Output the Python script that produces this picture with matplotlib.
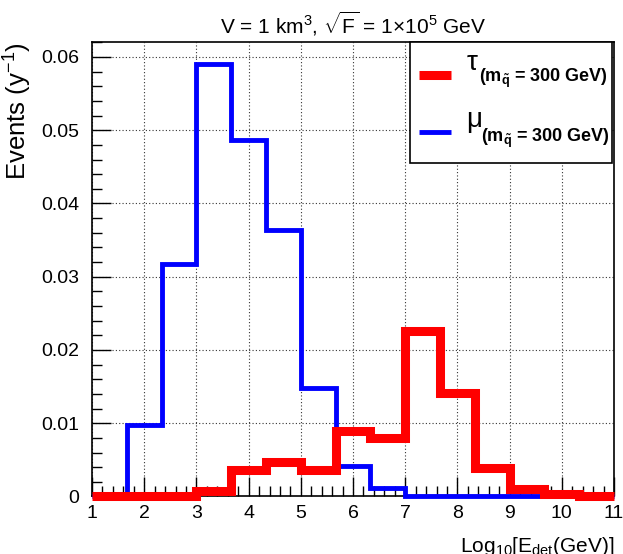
import numpy as np
import matplotlib
matplotlib.use("Agg")
import matplotlib.pyplot as plt
from matplotlib.ticker import MultipleLocator

plt.rcParams["font.family"] = ["Liberation Sans", "DejaVu Sans"]
plt.rcParams["mathtext.fontset"] = "custom"
plt.rcParams["mathtext.rm"] = "Liberation Sans"
plt.rcParams["mathtext.it"] = "Liberation Sans:italic"
plt.rcParams["mathtext.bf"] = "Liberation Sans:bold"
plt.rcParams["mathtext.default"] = "regular"

# log10 of detected energy, 15 bins between 1 and 11
bin_edges = np.linspace(1, 11, 16)

# events per year in each bin
tau_events = [0.0001, 0.0001, 0.0001, 0.0008, 0.0036, 0.0047, 0.0036, 0.0090,
              0.0080, 0.0226, 0.0141, 0.0039, 0.0010, 0.0004, 0.0001]
mu_events = [0.0, 0.0098, 0.0318, 0.0590, 0.0486, 0.0364, 0.0148, 0.0042,
             0.0011, 0.0001, 0.0001, 0.0001, 0.0001, 0.0, 0.0]

mass_label = r"(m$_{\mathbf{\tilde{q}}}$ = 300 GeV)"

fig = plt.figure(figsize=(6.23, 5.54), dpi=100)
ax = fig.add_axes([0.1477, 0.1038, 0.8379, 0.8198])

ax.stairs(mu_events, bin_edges, color="#0000ff", linewidth=3.5, baseline=None,
          zorder=3, clip_on=False)
ax.stairs(tau_events, bin_edges, color="#ff0000", linewidth=6.5, baseline=None,
          zorder=4, clip_on=False)

ax.set_xlim(1, 11)
ax.set_ylim(0, 0.062)
ax.xaxis.set_major_locator(MultipleLocator(1))
ax.xaxis.set_minor_locator(MultipleLocator(0.2))
ax.set_yticks([0, 0.01, 0.02, 0.03, 0.04, 0.05, 0.06])
ax.set_yticklabels(["0", "0.01", "0.02", "0.03", "0.04", "0.05", "0.06"])
ax.yaxis.set_minor_locator(MultipleLocator(0.002))

ax.tick_params(which="both", direction="in", labelsize=14, width=1)
ax.tick_params(which="major", length=14)
ax.tick_params(which="minor", length=7)
ax.tick_params(axis="y", pad=9)
ax.tick_params(axis="x", pad=6)
for s in ax.spines.values():
    s.set_linewidth(1.2)

ax.grid(True, which="major", linestyle=(0, (1, 2)), color="#333333", linewidth=0.8)
ax.set_axisbelow(True)

ax.set_title(r"V = 1 km$^3$, $\sqrt{F}$ = 1$\times$10$^5$ GeV", fontsize=15, pad=6)
ax.set_ylabel(r"Events (y$^{-1}$)", fontsize=18.5, loc="top")
ax.yaxis.set_label_coords(-0.112, 1.0)
ax.set_xlabel(r"Log$_{10}$[E$_{det}$(GeV)]", fontsize=15, loc="right")
ax.xaxis.set_label_coords(1.0, -0.085)

# legend box in the top right corner, drawn by hand
box = plt.Rectangle((0.609, 0.734), 0.387, 0.266, transform=ax.transAxes,
                    facecolor="white", edgecolor="black", linewidth=1.2,
                    zorder=10, clip_on=False)
ax.add_patch(box)
ax.plot([0.627, 0.688], [0.928, 0.928], transform=ax.transAxes, color="#ff0000",
        linewidth=6.5, solid_capstyle="butt", zorder=11, clip_on=False)
ax.plot([0.627, 0.688], [0.802, 0.802], transform=ax.transAxes, color="#0000ff",
        linewidth=3.5, solid_capstyle="butt", zorder=11, clip_on=False)
for sym, sym_y, sub_x, sub_y in [(r"$\tau$", 0.939, 0.741, 0.9126),
                                 (r"$\mu$", 0.8135, 0.745, 0.7805)]:
    ax.text(0.7165, sym_y, sym, transform=ax.transAxes, fontsize=20,
            ha="left", va="baseline", zorder=12)
    ax.text(sub_x, sub_y, mass_label, transform=ax.transAxes, fontsize=13,
            fontweight="bold", ha="left", va="baseline", zorder=12)

fig.savefig("out.png", dpi=100)
